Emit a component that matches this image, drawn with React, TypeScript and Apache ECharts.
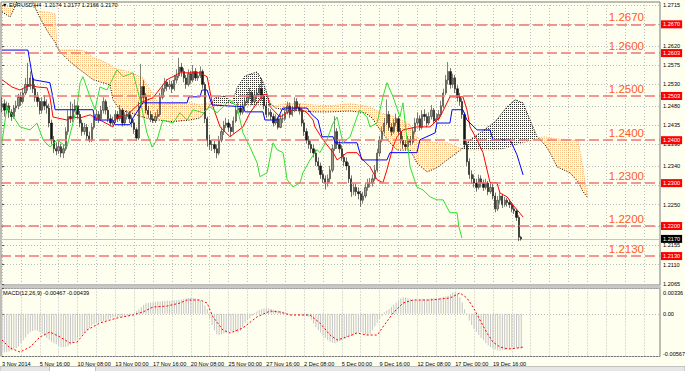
import { useEffect, useRef } from 'react';
import * as echarts from 'echarts';

const SYMBOL_TITLE = '\u25BC EURUSD,H4  1.2174 1.2177 1.2166 1.2170';
const MACD_TITLE = 'MACD(12,26,9) -0.00467 -0.00439';

// H4 bars, prices in 1/10000 (pips), bar i = 3 Nov 2014 00:00 + 4h*i (trading hours)
const FIRST_OPEN = 12480;
const CLOSE = [
  12485,12470,12480,12465,12455,12475, 12480,12500,12490,12510,12530,12525,
  12545,12520,12500,12490,12470,12490, 12480,12475,12440,12400,12380,12375,
  12385,12370,12380,12420,12455,12450, 12470,12480,12460,12440,12420,12430,
  12410,12400,12430,12450,12460,12450, 12470,12490,12470,12450,12440,12445,
  12460,12450,12470,12440,12455,12460, 12450,12440,12425,12405,12480,12525,
  12500,12470,12460,12450,12445,12455, 12460,12500,12520,12535,12525,12530,
  12520,12540,12550,12570,12560,12545, 12530,12555,12540,12560,12545,12550,
  12560,12530,12450,12400,12390,12390, 12380,12370,12400,12420,12435,12440,
  12430,12420,12445,12470,12475,12465, 12480,12490,12500,12510,12490,12505,
  12510,12520,12500,12480,12460,12465, 12455,12440,12450,12430,12450,12450,
  12465,12480,12460,12470,12490,12475, 12470,12440,12420,12400,12390,12380,
  12370,12350,12340,12320,12310,12300, 12310,12330,12380,12420,12390,12380,
  12360,12350,12340,12310,12280,12290, 12280,12275,12260,12270,12290,12300,
  12300,12310,12330,12370,12400,12420, 12440,12460,12430,12420,12440,12450,
  12420,12400,12390,12385,12400,12395, 12420,12440,12450,12430,12460,12455,
  12440,12455,12470,12445,12450,12460, 12480,12510,12540,12560,12530,12545,
  12520,12500,12490,12460,12390,12350, 12320,12310,12300,12290,12310,12300,
  12290,12300,12280,12290,12270,12240, 12260,12270,12250,12260,12255,12250,
  12240,12235,12220,12174,12170,
];
const HIGH = [
  12500,12495,12490,12487,12472,12482, 12492,12508,12512,12520,12545,12580,
  12560,12552,12530,12512,12498,12500, 12505,12495,12485,12448,12410,12395,
  12398,12392,12390,12430,12470,12490, 12485,12495,12488,12468,12448,12440,
  12438,12420,12440,12460,12472,12468, 12480,12500,12495,12478,12460,12455,
  12470,12468,12482,12475,12465,12470, 12468,12458,12448,12430,12490,12578,
  12540,12510,12480,12468,12460,12465, 12472,12510,12530,12545,12542,12540,
  12538,12552,12565,12592,12580,12568, 12552,12565,12562,12575,12568,12560,
  12572,12565,12535,12455,12412,12400, 12398,12390,12410,12430,12445,12452,
  12448,12438,12455,12480,12488,12482, 12490,12500,12512,12522,12515,12515,
  12520,12530,12545,12505,12488,12475, 12472,12462,12460,12455,12460,12462,
  12475,12490,12488,12480,12500,12498, 12485,12475,12448,12428,12410,12398,
  12390,12378,12360,12348,12330,12318, 12320,12340,12390,12456,12428,12400,
  12388,12368,12360,12348,12318,12300, 12298,12290,12282,12280,12300,12310,
  12312,12320,12342,12380,12410,12432, 12452,12495,12468,12440,12450,12462,
  12455,12428,12410,12400,12410,12410, 12430,12452,12465,12458,12470,12472,
  12462,12465,12482,12475,12462,12470, 12492,12520,12552,12582,12568,12555,
  12552,12528,12510,12498,12465,12398, 12358,12330,12320,12310,12320,12318,
  12308,12310,12305,12300,12298,12278, 12270,12278,12275,12268,12265,12262,
  12255,12248,12240,12225,12177,
];
const LOW = [
  12465,12455,12462,12452,12445,12450, 12466,12472,12480,12485,12505,12515,
  12518,12510,12490,12478,12460,12462, 12470,12462,12430,12390,12370,12365,
  12368,12360,12358,12375,12412,12440, 12442,12465,12450,12430,12410,12412,
  12400,12395,12396,12425,12445,12440, 12445,12462,12460,12442,12432,12435,
  12440,12442,12445,12432,12435,12448, 12440,12430,12415,12398,12400,12475,
  12490,12462,12452,12442,12440,12440, 12450,12455,12495,12512,12515,12518,
  12510,12515,12532,12545,12548,12535, 12520,12525,12532,12535,12538,12538,
  12545,12520,12440,12385,12378,12375, 12370,12358,12365,12395,12412,12428,
  12420,12410,12415,12440,12462,12458, 12460,12472,12485,12495,12482,12485,
  12498,12505,12492,12472,12452,12455, 12448,12432,12435,12425,12428,12440,
  12445,12460,12452,12455,12465,12468, 12460,12432,12410,12392,12380,12370,
  12360,12340,12330,12310,12300,12285, 12292,12302,12325,12375,12380,12370,
  12352,12340,12330,12300,12268,12272, 12270,12262,12245,12252,12265,12282,
  12290,12292,12305,12325,12362,12395, 12415,12435,12422,12410,12415,12432,
  12412,12392,12380,12378,12380,12388, 12390,12415,12435,12422,12425,12445,
  12430,12435,12448,12438,12440,12445, 12455,12475,12505,12530,12520,12522,
  12510,12490,12480,12450,12380,12340, 12310,12298,12290,12280,12285,12290,
  12282,12285,12272,12275,12262,12232, 12235,12252,12242,12245,12245,12242,
  12232,12228,12212,12165,12166,
];

// Ichimoku lines: [bar index], [price in pips]
const TENKAN_I = [0,4.2,7.6,11.9,14.8,19.1,20.3,21.6,27.5,30.1,33.1,37.3,41.5,47,48.7,53,58.5,64,69.9,75.4,83.9,86.9,89.4,92.4,96.6,102.1,105.1,108.1,110.6,112.3,113.6,117.8,125,129.2,131.8,132.6,136,140.3,142,146.2,150.4,153,155.9,158.9,161.4,163.1,165.7,167.4,169.9,175.8,181.4,184.3,185.6,189.8,195.3,197,198.3,201.3,203.8,206.8,209.7,211,214,216.5,218.2,220.8];
const TENKAN_V = [12541,12524,12517,12529,12524,12522,12501,12454,12447,12454,12452,12459,12447,12431,12454,12459,12487,12499,12541,12557,12557,12548,12478,12431,12408,12431,12464,12487,12506,12506,12478,12454,12478,12464,12447,12431,12401,12371,12354,12371,12371,12354,12338,12308,12301,12331,12385,12408,12424,12431,12431,12447,12454,12501,12501,12471,12431,12401,12371,12301,12301,12277,12268,12249,12238,12221];
const KIJUN_I = [0,11,13.1,20.3,21.2,22.5,38.6,39.4,47,47.9,54.2,55.5,59.7,78.4,79.2,83.9,84.7,86.9,89,102.1,103,110.6,111.4,116.5,119,129.2,131.4,133.9,135.6,140.3,141.1,150.4,152.5,163.1,164.4,175.8,177.1,183.5,184.3,189.8,190.7,195.3,197,201.3,206.8,208,215.3,218.2,220.8];
const KIJUN_V = [12610,12610,12541,12534,12510,12471,12471,12447,12447,12436,12436,12452,12487,12487,12501,12501,12517,12517,12482,12478,12466,12466,12447,12447,12475,12475,12459,12447,12408,12408,12394,12394,12354,12354,12371,12371,12401,12417,12440,12440,12471,12471,12447,12424,12424,12401,12401,12366,12319];
const CHIKOU_I = [0,2.1,7.6,11.9,14.8,17.4,20.3,23.3,27.5,31.8,33.1,34.3,37.3,39.4,41.5,44.5,48.7,51.3,55.5,58.5,61.4,63.6,65.7,68.2,72.5,75.4,78.4,80.9,85.2,88.1,91.1,96.6,99.6,102.1,105.1,108.1,109.3,112.3,114.8,116.5,119.1,120.8,123.3,126.3,127.5,130.5,133.5,134.7,137.7,140.3,142,143.2,144.5,147.5,150.4,151.7,154.7,155.9,158.9,161.4,163.1,165.7,168.6,169.9,171.6,172.9,175.8,178.4,181.4,184.3,186.9,189.8,192.8,193.6,194.9];
const CHIKOU_V = [12394,12478,12431,12424,12440,12401,12384,12401,12384,12478,12534,12548,12501,12471,12524,12517,12564,12548,12557,12494,12417,12384,12401,12447,12440,12464,12447,12471,12464,12478,12464,12494,12478,12417,12384,12347,12315,12324,12394,12378,12371,12308,12291,12301,12324,12354,12378,12371,12401,12440,12454,12424,12394,12408,12454,12471,12454,12431,12440,12501,12534,12501,12454,12487,12401,12338,12291,12284,12268,12261,12261,12231,12231,12198,12172];
const CLOUD_I = [0,3.4,5.1,6.8,10.2,13.1,14.4,16.1,18.2,20.3,22.5,23.3,24.6,28.8,33.1,36,38.6,41.5,45.8,47,50,54.2,59.7,64,66.9,71.2,75.4,79.7,83.9,87.3,90.3,94.5,97.5,99.6,103,108.1,110.6,112.3,113.6,115.7,119.9,126.3,132.6,139,147.5,153.8,156.8,160.2,164.4,167.4,172.9,175.8,180.1,184.3,188.6,192.8,194.9,198.3,202.5,208.9,214,217.4,220.8,223.7,226.7,230.1,232.2,235.2,240.7,244.1,246.2,247.9];
const SPAN_A = [12711,12711,12718,12734,12760,12739,12704,12699,12699,12697,12694,12617,12610,12610,12610,12606,12592,12587,12576,12569,12564,12559,12545,12506,12482,12485,12487,12487,12482,12487,12482,12485,12485,12482,12482,12482,12482,12482,12480,12480,12485,12485,12482,12480,12485,12480,12475,12464,12457,12452,12436,12405,12396,12394,12394,12384,12380,12377,12377,12377,12382,12389,12394,12398,12405,12408,12405,12403,12401,12398,12331,12273];
const SPAN_B = [12699,12687,12706,12729,12745,12720,12704,12685,12664,12645,12629,12617,12606,12583,12564,12552,12541,12536,12529,12494,12471,12464,12454,12447,12447,12443,12445,12447,12452,12475,12499,12503,12485,12522,12550,12559,12536,12508,12487,12475,12471,12468,12466,12466,12468,12464,12452,12424,12394,12377,12377,12347,12326,12336,12354,12371,12380,12401,12417,12443,12478,12494,12487,12447,12408,12389,12371,12338,12324,12303,12280,12268];

// MACD (1e-5 units)
const MACD = [
  -500,-510,-507,-500,-485,-470,-455,-430,-390,-350,-310,-270,-245,-230,-220,-225,-240,-260,-290,-320,
  -345,-370,-390,-405,-425,-440,-445,-440,-430,-410,-385,-360,-330,-305,-275,-250,-220,-190,-160,-140,
  -125,-115,-105,-95,-85,-80,-60,-50,-45,-40,-38,-35,-30,-25,-20,-10,10,35,60,90,
  120,140,145,150,155,160,165,165,170,170,175,170,175,180,180,185,190,195,205,210,
  215,210,205,200,180,150,110,60,-60,-150,-220,-270,-280,-270,-260,-250,-240,-235,-230,-240,
  -250,-230,-180,-120,-85,-60,-30,10,30,50,60,70,75,70,65,55,50,45,35,30,
  20,10,5,0,-5,-10,-15,-20,-25,-30,-40,-80,-130,-180,-220,-250,-290,-320,-350,-370,
  -385,-390,-380,-365,-350,-330,-310,-300,-290,-285,-270,-250,-240,-255,-270,-280,-270,-220,-170,-120,
  -70,-30,20,45,65,90,120,150,180,205,220,215,205,200,190,185,185,190,200,195,
  190,200,205,210,200,205,215,225,230,240,260,280,290,270,220,150,60,-10,-90,-150,
  -200,-240,-280,-320,-350,-390,-420,-440,-460,-475,-485,-490,-485,-480,-470,-465,-460,-455,-450,-460,
  -467,
];
const SIGNAL_I = [0,3.4,7.6,11.9,16.1,20.3,24.6,28.8,31.8,36,41.5,48.7,55.5,59.7,64,70,75.4,78.4,83.9,86.9,89.4,93.6,96.6,102,108,113.6,117.8,122,130.5,134.7,139,142,146,150.4,154.7,159,161.4,165.7,169.9,174.2,181.4,189.8,194,197,199.6,202.5,205.5,208,211,214.4,218.2,220.8];
const SIGNAL_V = [-348,-454,-507,-441,-308,-242,-308,-388,-375,-215,-122,-56,-16,24,90,103,143,183,183,143,-42,-215,-255,-189,-42,37,24,-16,-16,-122,-282,-348,-308,-255,-282,-282,-175,10,143,183,183,210,276,210,90,-82,-255,-375,-441,-468,-455,-441];

const PRICE_GRID = [1.2715,1.2670,1.2620,1.2575,1.2530,1.2480,1.2435,1.2390,1.2340,1.2295,1.2250,1.2200,1.2155,1.2110,1.2065];
// labels that are not hidden behind the level boxes
const PRICE_LABELS = [1.2715,1.2620,1.2575,1.2530,1.2480,1.2435,1.2390,1.2340,1.2250,1.2155,1.2110,1.2065];
const DATE_LABELS = ['3 Nov 2014','5 Nov 16:00','10 Nov 08:00','13 Nov 00:00','17 Nov 16:00','20 Nov 08:00','25 Nov 00:00','27 Nov 16:00','2 Dec 08:00','5 Dec 00:00','9 Dec 16:00','12 Dec 08:00','17 Dec 00:00','19 Dec 16:00'];
const LEVELS = [1.2670, 1.2603, 1.2503, 1.2400, 1.2300, 1.2200, 1.2130];
const LEVEL_NAMES = ['1.2670','1.2600','1.2500','1.2400','1.2300','1.2200','1.2130'];
const LAST_PRICE = 1.2170;
const MACD_MIN = -0.00567;
const MACD_MAX = 0.00336;

const X_MIN = -0.424;
const X_MAX = 278.8;
const Y_MIN = 1.20626;
const Y_MAX = 1.2722;
const FONT = 'Liberation Sans, Arial, sans-serif';

const p = (v: number) => v / 10000;

const dots = (color: string) => ({
  image:
    'data:image/svg+xml;utf8,' +
    encodeURIComponent(
      `<svg xmlns="http://www.w3.org/2000/svg" width="2" height="2"><rect width="1" height="1" fill="${color}"/></svg>`
    ),
  repeat: 'repeat',
  imageWidth: 2,
  imageHeight: 2,
});

function buildOption() {
  const ORANGE_DOTS = dots('#F7A048');
  const BLACK_DOTS = dots('#000000');
  const candles = CLOSE.map((c, i) => [
    i,
    p(i === 0 ? FIRST_OPEN : CLOSE[i - 1]),
    p(c),
    p(LOW[i]),
    p(HIGH[i]),
  ]);
  const pairs = (xs: number[], vs: number[], f: (v: number) => number) => xs.map((x, k) => [x, f(vs[k])]);
  const gridX: number[] = [];
  for (let v = 0; v <= X_MAX; v += 8) gridX.push(v);
  const labelX = DATE_LABELS.map((_, k) => k * 16);
  const cloudData = CLOUD_I.map((x, k) => [x, p(SPAN_A[k]), p(SPAN_B[k])]);

  const splitStyle = { show: true, lineStyle: { color: '#BDBDBD', type: [1, 2], width: 1 } };
  const smallText = { fontSize: 5.6, color: '#000', fontFamily: FONT };

  return {
    animation: false,
    backgroundColor: '#FFFFF0',
    textStyle: { fontFamily: FONT },
    title: [
      { text: SYMBOL_TITLE, left: 2, top: 2, padding: 0, textStyle: { ...smallText, fontWeight: 'normal' } },
      { text: MACD_TITLE, left: 3, top: 290, padding: 0, textStyle: { ...smallText, fontWeight: 'normal' } },
    ],
    grid: [
      { left: 1, top: 2, width: 659, height: 283, show: true, borderColor: '#7A7A7A', borderWidth: 1, outerBoundsMode: 'none', containLabel: false },
      { left: 1, top: 288.5, width: 659, height: 68, show: true, borderColor: '#7A7A7A', borderWidth: 1, outerBoundsMode: 'none', containLabel: false },
    ],
    xAxis: [
      {
        type: 'value', gridIndex: 0, min: X_MIN, max: X_MAX,
        axisLine: { show: false }, axisLabel: { show: false },
        axisTick: { show: false, customValues: gridX },
        splitLine: splitStyle,
      },
      {
        type: 'value', gridIndex: 1, min: X_MIN, max: X_MAX,
        axisLine: { show: false },
        axisTick: { show: false, customValues: gridX },
        axisLabel: {
          customValues: labelX,
          formatter: (v: number) => DATE_LABELS[Math.round(v / 16)] ?? '',
          align: 'left', margin: 4, ...smallText,
        },
        splitLine: splitStyle,
      },
    ],
    yAxis: [
      {
        type: 'value', gridIndex: 0, position: 'right', min: Y_MIN, max: Y_MAX,
        axisLine: { show: false },
        axisTick: { show: true, length: 2, customValues: PRICE_GRID, lineStyle: { color: '#555' } },
        axisLabel: { customValues: PRICE_LABELS, formatter: (v: number) => v.toFixed(4), margin: 3, ...smallText },
        splitLine: splitStyle,
      },
      {
        type: 'value', gridIndex: 1, position: 'right', min: MACD_MIN, max: MACD_MAX,
        axisLine: { show: false },
        axisTick: { show: true, length: 2, customValues: [MACD_MIN, 0, MACD_MAX], lineStyle: { color: '#555' } },
        axisLabel: {
          customValues: [MACD_MIN, 0, MACD_MAX],
          formatter: (v: number) =>
            Math.abs(v) < 1e-9 ? '0.00' : v > 0 ? `{t|${v.toFixed(5)}}` : `{b|${v.toFixed(5)}}`,
          margin: 3, ...smallText,
          rich: { t: { ...smallText, padding: [8, 0, 0, 0] }, b: { ...smallText, padding: [0, 0, 5, 0] } },
        },
        splitLine: splitStyle,
      },
    ],
    graphic: [
      { type: 'rect', shape: { x: 0, y: 285.5, width: 661, height: 3 }, style: { fill: '#C8C8C8' }, silent: true },
      { type: 'rect', shape: { x: 0, y: 366.5, width: 685, height: 5 }, style: { fill: '#E6E6E6', stroke: '#A0A0A0', lineWidth: 0.6 }, silent: true },
      { type: 'rect', shape: { x: 49.5, y: 366.5, width: 46, height: 5 }, style: { fill: '#FFFFFF', stroke: '#A0A0A0', lineWidth: 0.6 }, silent: true },
    ],
    series: [
      {
        type: 'custom', name: 'Kumo', xAxisIndex: 0, yAxisIndex: 0, z: 1, clip: true, silent: true,
        data: cloudData, encode: { x: 0, y: [1, 2] },
        renderItem: (params: any, api: any) => {
          const k = params.dataIndex;
          if (k >= CLOUD_I.length - 1) return null;
          const x0 = CLOUD_I[k], x1 = CLOUD_I[k + 1];
          const a0 = p(SPAN_A[k]), a1 = p(SPAN_A[k + 1]);
          const b0 = p(SPAN_B[k]), b1 = p(SPAN_B[k + 1]);
          const d0 = a0 - b0, d1 = a1 - b1;
          const pt = (x: number, y: number) => api.coord([x, y]);
          const children: any[] = [];
          const poly = (pts: number[][], up: boolean) =>
            children.push({
              type: 'polygon', shape: { points: pts },
              style: { fill: up ? ORANGE_DOTS : BLACK_DOTS, stroke: null, opacity: up ? 0.62 : 0.8 },
            });
          if (d0 * d1 < 0) {
            const t = d0 / (d0 - d1);
            const xc = x0 + t * (x1 - x0), yc = a0 + t * (a1 - a0);
            poly([pt(x0, a0), pt(xc, yc), pt(x0, b0)], d0 > 0);
            poly([pt(xc, yc), pt(x1, a1), pt(x1, b1)], d1 > 0);
          } else {
            poly([pt(x0, a0), pt(x1, a1), pt(x1, b1), pt(x0, b0)], d0 + d1 >= 0);
          }
          return { type: 'group', children };
        },
      },
      {
        type: 'line', name: 'Senkou A', xAxisIndex: 0, yAxisIndex: 0, z: 2, silent: true,
        data: pairs(CLOUD_I, SPAN_A, p), showSymbol: false,
        lineStyle: { color: '#F4A460', width: 1, type: [1, 1.5] },
      },
      {
        type: 'line', name: 'Senkou B', xAxisIndex: 0, yAxisIndex: 0, z: 2, silent: true,
        data: pairs(CLOUD_I, SPAN_B, p), showSymbol: false,
        lineStyle: { color: '#000000', width: 1, type: [1, 1.5] },
      },
      {
        type: 'candlestick', name: 'EURUSD', xAxisIndex: 0, yAxisIndex: 0, z: 3, silent: true,
        data: candles, encode: { x: 0, y: [1, 2, 3, 4] },
        barWidth: 1.8,
        itemStyle: { color: '#9A9A86', color0: '#151515', borderColor: '#2E2E2E', borderColor0: '#151515', borderWidth: 0.6 },
      },
      {
        type: 'line', name: 'Tenkan-sen', xAxisIndex: 0, yAxisIndex: 0, z: 4, silent: true,
        data: pairs(TENKAN_I, TENKAN_V, p), showSymbol: false,
        lineStyle: { color: '#FF0000', width: 1 },
        markLine: {
          silent: true, symbol: ['none', 'none'], animation: false, precision: 4,
          lineStyle: { color: '#F37474', width: 1.7, type: [10, 4] },
          label: {
            show: true, position: 'insideEndTop', formatter: '{b}', distance: 1,
            color: '#FF5A28', fontSize: 11.5, fontFamily: FONT, padding: [0, 15, 0, 0],
          },
          data: LEVELS.map((v, k) => ({ yAxis: v, name: LEVEL_NAMES[k] })),
        },
      },
      {
        type: 'line', name: 'Kijun-sen', xAxisIndex: 0, yAxisIndex: 0, z: 4, silent: true,
        data: pairs(KIJUN_I, KIJUN_V, p), showSymbol: false,
        lineStyle: { color: '#0000FF', width: 1 },
        markLine: {
          silent: true, symbol: ['none', 'none'], animation: false, z: 7, precision: 4,
          lineStyle: { color: 'rgba(0,0,0,0)', width: 0 },
          label: {
            show: true, position: 'end', distance: 1,
            formatter: (d: any) => Number(d.value).toFixed(4),
            backgroundColor: '#FF0000', color: '#FFFFFF', fontSize: 5.6, fontFamily: FONT, padding: [1, 2, 1, 2],
          },
          data: LEVELS.map((v) => ({ yAxis: v })),
        },
      },
      {
        type: 'line', name: 'Chikou Span', xAxisIndex: 0, yAxisIndex: 0, z: 4, silent: true,
        data: pairs(CHIKOU_I, CHIKOU_V, p), showSymbol: false,
        lineStyle: { color: '#2EE02E', width: 1 },
        markLine: {
          silent: true, symbol: ['none', 'none'], animation: false, z: 2, precision: 4,
          lineStyle: { color: '#C4C4C4', width: 1, type: 'solid' },
          label: {
            show: true, position: 'end', distance: 1,
            formatter: (d: any) => Number(d.value).toFixed(4),
            backgroundColor: '#000000', color: '#FFFFFF', fontSize: 5.6, fontFamily: FONT, padding: [1, 2, 1, 2],
          },
          data: [{ yAxis: LAST_PRICE }],
        },
      },
      {
        type: 'bar', name: 'MACD', xAxisIndex: 1, yAxisIndex: 1, silent: true,
        data: MACD.map((v, i) => [i, v / 100000]), barWidth: 1,
        itemStyle: { color: '#C4C4C4' },
      },
      {
        type: 'line', name: 'Signal', xAxisIndex: 1, yAxisIndex: 1, silent: true, z: 3,
        data: pairs(SIGNAL_I, SIGNAL_V, (v) => v / 100000), showSymbol: false,
        lineStyle: { color: '#FF0000', width: 1, type: [2, 2] },
      },
    ],
  };
}

export default function App() {
  const ref = useRef<HTMLDivElement>(null);
  useEffect(() => {
    if (!ref.current) return;
    const chart = echarts.init(ref.current, null, { renderer: 'svg' });
    chart.setOption(buildOption() as any);
    return () => chart.dispose();
  }, []);
  return (
    <div
      ref={ref}
      style={{ position: 'fixed', left: 0, top: 0, width: 685, height: 371, background: '#FFFFF0' }}
    />
  );
}
